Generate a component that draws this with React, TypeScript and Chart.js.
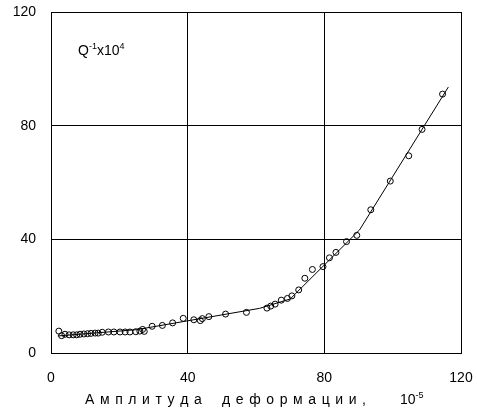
import React, { useEffect, useRef } from "react";
import { Chart, registerables } from "chart.js";

Chart.register(...registerables);

const pointX = [2.3, 3.1, 4.1, 5.3, 6.5, 7.5, 8.5, 9.6, 10.7, 11.7, 12.9, 13.8, 15.0, 16.8, 18.4, 20.2, 21.7, 23.1, 24.8, 26.0, 26.8, 27.3, 29.6, 32.6, 35.6, 38.7, 41.8, 43.7, 44.3, 46.2, 51.1, 57.2, 63.2, 64.3, 65.6, 67.4, 69.2, 70.5, 72.5, 74.3, 76.5, 79.6, 81.5, 83.4, 86.5, 89.5, 93.6, 99.3, 104.7, 108.6, 114.6];
const pointY = [7.7, 6.1, 6.6, 6.4, 6.4, 6.4, 6.6, 6.7, 6.8, 6.9, 7.0, 7.0, 7.3, 7.4, 7.4, 7.4, 7.4, 7.4, 7.5, 7.7, 8.3, 7.6, 9.4, 9.7, 10.6, 12.2, 11.7, 11.4, 12.1, 12.8, 13.7, 14.3, 15.8, 16.5, 17.2, 18.6, 19.2, 20.1, 22.2, 26.3, 29.4, 30.4, 33.5, 35.4, 39.2, 41.4, 50.4, 60.5, 69.4, 78.7, 91.1];

const fitX = [2, 25, 61, 70, 90.3, 116.3];
const fitY = [6, 8.2, 15.7, 19, 43.3, 93.6];

const axisTicks = [0, 40, 80, 120];
const xTitleWords = ["Амплитуда", "деформации,"];
const xTitleUnit = "10";
const xTitleUnitExp = "-5";
const yTitleBase = "Q";
const yTitleExp1 = "-1";
const yTitleMid = "x10";
const yTitleExp2 = "4";

const FONT = '"Liberation Sans", Arial, sans-serif';

const textPlugin = {
  id: "customText",
  afterDraw(chart: any) {
    const ctx = chart.ctx;
    ctx.save();
    ctx.fillStyle = "#000";
    ctx.textBaseline = "alphabetic";
    ctx.textAlign = "left";
    let x = 78;
    const by = 55;
    ctx.font = `14px ${FONT}`;
    ctx.fillText(yTitleBase, x, by);
    x += ctx.measureText(yTitleBase).width;
    ctx.font = `9px ${FONT}`;
    ctx.fillText(yTitleExp1, x, by - 6);
    x += ctx.measureText(yTitleExp1).width;
    ctx.font = `14px ${FONT}`;
    ctx.fillText(yTitleMid, x, by);
    x += ctx.measureText(yTitleMid).width;
    ctx.font = `9px ${FONT}`;
    ctx.fillText(yTitleExp2, x, by - 6);

    const ty = 404;
    const ls = 5.6;
    ctx.font = `14px ${FONT}`;
    const starts = [85, 222];
    xTitleWords.forEach((w, i) => {
      let cx = starts[i];
      for (const ch of w) {
        ctx.fillText(ch, cx, ty);
        cx += ctx.measureText(ch).width + ls;
      }
    });
    ctx.fillText(xTitleUnit, 400, ty);
    const uw = ctx.measureText(xTitleUnit).width;
    ctx.font = `9px ${FONT}`;
    ctx.fillText(xTitleUnitExp, 400 + uw, ty - 6);
    ctx.restore();
  },
};

export default function App() {
  const ref = useRef<HTMLCanvasElement>(null);
  useEffect(() => {
    if (!ref.current) return;
    const chart = new Chart(ref.current, {
      type: "scatter",
      data: {
        datasets: [
          {
            data: pointX.map((v, i) => ({ x: v, y: pointY[i] })),
            pointStyle: "circle",
            pointRadius: 3,
            pointBorderWidth: 1,
            pointBackgroundColor: "rgba(255,255,255,0)",
            pointBorderColor: "#000",
            showLine: false,
          },
          {
            data: fitX.map((v, i) => ({ x: v, y: fitY[i] })),
            showLine: true,
            borderColor: "#000",
            borderWidth: 1,
            pointRadius: 0,
            tension: 0,
          },
        ],
      },
      options: {
        animation: false,
        responsive: true,
        maintainAspectRatio: false,
        layout: { padding: { left: 0, right: 16, top: 12, bottom: 0 } },
        plugins: { legend: { display: false }, tooltip: { enabled: false }, title: { display: false } },
        scales: {
          x: {
            type: "linear",
            min: 0,
            max: 120,
            afterFit: (s: any) => { s.height = 55; s.paddingLeft = 0; s.paddingRight = 0; },
            afterBuildTicks: (s: any) => { s.ticks = axisTicks.map((v) => ({ value: v })); },
            ticks: { color: "#000", font: { family: FONT, size: 14 }, padding: 17, maxRotation: 0 },
            grid: { color: "#000", lineWidth: 1, drawTicks: false },
            border: { color: "#000", width: 1 },
          },
          y: {
            type: "linear",
            min: 0,
            max: 120,
            afterFit: (s: any) => { s.width = 51; s.paddingTop = 0; s.paddingBottom = 0; },
            afterBuildTicks: (s: any) => { s.ticks = axisTicks.map((v) => ({ value: v })); },
            ticks: { color: "#000", font: { family: FONT, size: 14 }, padding: 15 },
            grid: { color: "#000", lineWidth: 1, drawTicks: false },
            border: { color: "#000", width: 1 },
          },
        },
      },
      plugins: [textPlugin],
    });
    return () => chart.destroy();
  }, []);
  return (
    <div style={{ position: "absolute", left: 0, top: 0, width: 477, height: 408, background: "#fff" }}>
      <canvas ref={ref} />
    </div>
  );
}
